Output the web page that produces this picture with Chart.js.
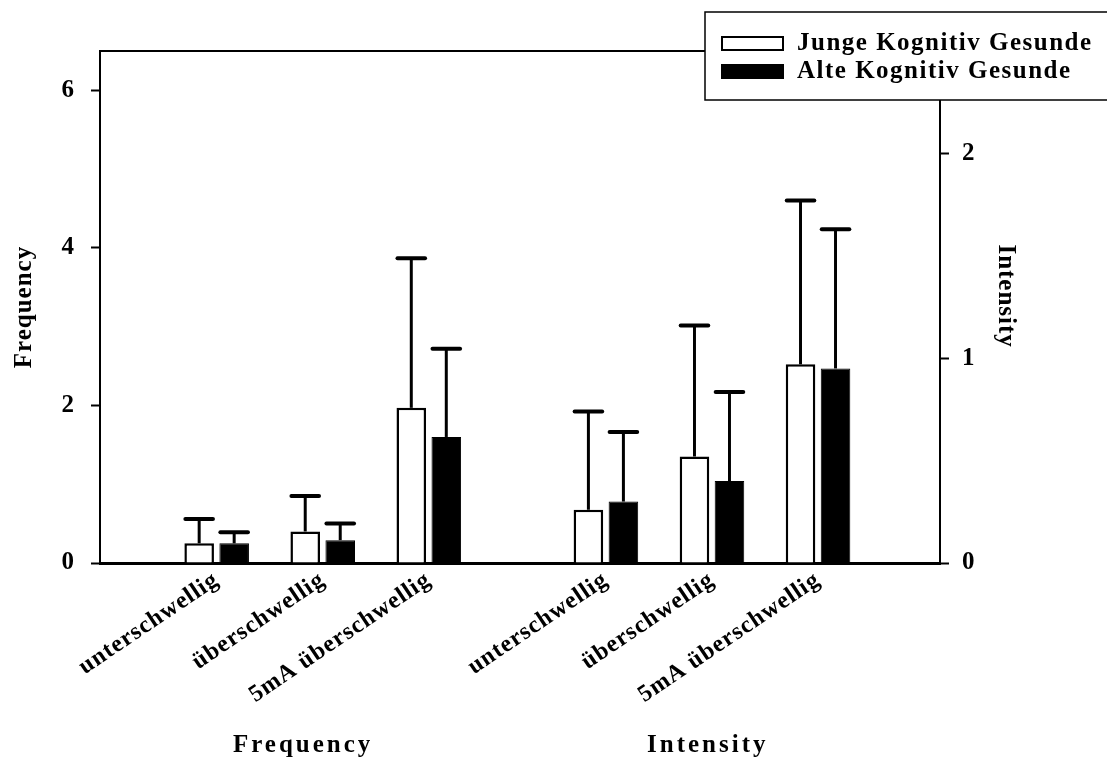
<!DOCTYPE html>
<html lang="de">
<head>
<meta charset="UTF-8">
<title>Frequency / Intensity</title>
<style>
  html, body { margin: 0; padding: 0; background: #fff; }
  #wrap { width: 1107px; height: 763px; }
</style>
</head>
<body>
<div id="wrap"><canvas id="chart"></canvas></div>
<script src="https://cdn.jsdelivr.net/npm/chart.js"></script>
<script>
const seriesNames = ['Junge Kognitiv Gesunde', 'Alte Kognitiv Gesunde'];
const conditions = ['unterschwellig', 'überschwellig', '5mA überschwellig'];
const groupTitles = ['Frequency', 'Intensity'];

// positions on the x axis: frequency block, gap, intensity block
const freqSlots = [1, 2, 3];
const intSlots = [4.67, 5.67, 6.67];
const titleSlots = [1.815, 5.63];

// means and SD (upper error bar only)
const freqJunge = [0.25, 0.40, 1.97];
const freqJungeSd = [0.31, 0.45, 1.90];
const freqAlte = [0.25, 0.29, 1.60];
const freqAlteSd = [0.14, 0.21, 1.12];
const intJunge = [0.26, 0.52, 0.97];
const intJungeSd = [0.48, 0.64, 0.80];
const intAlte = [0.30, 0.40, 0.95];
const intAlteSd = [0.34, 0.435, 0.68];

const freqTicks = [0, 2, 4, 6];
const intTicks = [0, 1, 2];

const FONT = '"Liberation Serif", "Times New Roman", serif';
Chart.defaults.font.family = FONT;
Chart.defaults.font.weight = 'bold';
Chart.defaults.font.size = 25;
Chart.defaults.color = '#000';

const spreads = [freqJungeSd, freqAlteSd, intJungeSd, intAlteSd];

function points(slots, vals) {
  return slots.map((x, i) => ({ x: x, y: vals[i] }));
}

const white = { backgroundColor: '#fff', borderColor: '#000', borderWidth: 2.5, stack: 'junge' };
const black = { backgroundColor: '#000', borderColor: '#000', borderWidth: 1, stack: 'alte' };

const errorBars = {
  id: 'errorBars',
  afterDatasetsDraw(chart) {
    const ctx = chart.ctx;
    ctx.save();
    ctx.strokeStyle = '#000';
    chart.data.datasets.forEach((ds, di) => {
      const meta = chart.getDatasetMeta(di);
      const scale = chart.scales[ds.yAxisID];
      meta.data.forEach((bar, i) => {
        const top = scale.getPixelForValue(ds.data[i].y + spreads[di][i]);
        const half = bar.width / 2;
        ctx.lineWidth = 3;
        ctx.lineCap = 'butt';
        ctx.beginPath();
        ctx.moveTo(bar.x, bar.y);
        ctx.lineTo(bar.x, top);
        ctx.stroke();
        ctx.lineWidth = 4;
        ctx.lineCap = 'round';
        ctx.beginPath();
        ctx.moveTo(bar.x - half + 1, top);
        ctx.lineTo(bar.x + half - 1, top);
        ctx.stroke();
      });
    });
    ctx.restore();
  }
};

const frame = {
  id: 'frame',
  beforeUpdate(chart) { chart.ctx.letterSpacing = '1px'; },
  beforeDraw(chart) { chart.ctx.letterSpacing = '1px'; },
  afterDraw(chart) {
    const { ctx, chartArea, scales } = chart;
    ctx.save();
    ctx.strokeStyle = '#000';
    ctx.fillStyle = '#000';

    // top edge of the plot box
    ctx.lineWidth = 2;
    ctx.beginPath();
    ctx.moveTo(chartArea.left - 1, chartArea.top);
    ctx.lineTo(chartArea.right + 1, chartArea.top);
    ctx.stroke();

    // block titles under the condition labels
    ctx.font = 'bold 25px ' + FONT;
    ctx.letterSpacing = '3px';
    ctx.textAlign = 'center';
    ctx.textBaseline = 'middle';
    groupTitles.forEach((t, i) => {
      ctx.fillText(t, scales.x.getPixelForValue(titleSlots[i]), 746);
    });

    // legend box, top right
    ctx.fillStyle = '#fff';
    ctx.fillRect(705, 12, 410, 88);
    ctx.lineWidth = 1.5;
    ctx.strokeRect(705, 12, 410, 88);
    ctx.letterSpacing = '1.5px';
    ctx.textAlign = 'left';
    seriesNames.forEach((name, i) => {
      const ds = chart.data.datasets[i];
      const y = 37 + i * 28;
      ctx.fillStyle = ds.backgroundColor;
      ctx.fillRect(722, y, 61, 13);
      ctx.lineWidth = 2;
      ctx.strokeRect(722, y, 61, 13);
      ctx.fillStyle = '#000';
      ctx.fillText(name, 797, y + 7);
    });
    ctx.restore();
  }
};

new Chart(document.getElementById('chart'), {
  type: 'bar',
  data: {
    datasets: [
      Object.assign({ label: seriesNames[0], data: points(freqSlots, freqJunge), yAxisID: 'y' }, white),
      Object.assign({ label: seriesNames[1], data: points(freqSlots, freqAlte), yAxisID: 'y' }, black),
      Object.assign({ label: seriesNames[0], data: points(intSlots, intJunge), yAxisID: 'y2' }, white),
      Object.assign({ label: seriesNames[1], data: points(intSlots, intAlte), yAxisID: 'y2' }, black)
    ]
  },
  options: {
    responsive: true,
    maintainAspectRatio: false,
    animation: false,
    layout: { padding: { top: 51, left: 0, right: 0, bottom: 0 } },
    categoryPercentage: 0.66,
    barPercentage: 0.845,
    plugins: { legend: { display: false }, tooltip: { enabled: false } },
    scales: {
      x: {
        type: 'linear',
        min: -0.1,
        max: 7.82,
        offset: false,
        afterBuildTicks: s => { s.ticks = freqSlots.concat(intSlots).map(v => ({ value: v })); },
        afterFit: s => { s.height = 200; },
        grid: { display: false },
        border: { display: true, color: '#000', width: 3 },
        ticks: {
          autoSkip: false,
          minRotation: 34,
          maxRotation: 34,
          padding: -5,
          font: { size: 24 },
          callback: (v, i) => conditions[i % 3]
        }
      },
      y: {
        position: 'left',
        min: 0,
        max: 6.5,
        stacked: false,
        afterBuildTicks: s => { s.ticks = freqTicks.map(v => ({ value: v })); },
        afterFit: s => { s.width = 100; },
        grid: { drawOnChartArea: false, color: '#000', tickLength: 9, tickWidth: 2 },
        border: { display: true, color: '#000', width: 2 },
        ticks: { padding: 16 },
        title: { display: true, text: 'Frequency', padding: { top: 10, bottom: 0 } }
      },
      y2: {
        position: 'right',
        min: 0,
        max: 2.5,
        stacked: false,
        afterBuildTicks: s => { s.ticks = intTicks.map(v => ({ value: v })); },
        afterFit: s => { s.width = 167; },
        grid: { drawOnChartArea: false, color: '#000', tickLength: 9, tickWidth: 2 },
        border: { display: true, color: '#000', width: 2 },
        ticks: { padding: 13 },
        title: { display: true, text: 'Intensity   ', padding: { top: 87, bottom: 0 } }
      }
    }
  },
  plugins: [errorBars, frame]
});
</script>
</body>
</html>
